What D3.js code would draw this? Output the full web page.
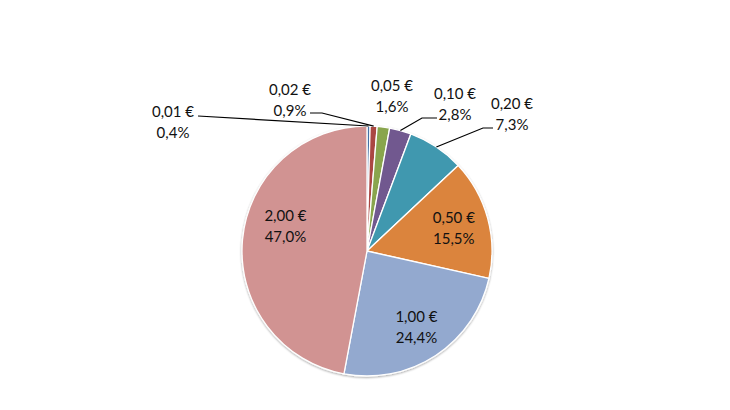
<!DOCTYPE html>
<html>
<head>
<meta charset="utf-8">
<script src="https://cdn.jsdelivr.net/npm/d3@7"></script>
<style>
  body { margin: 0; background: #fff; }
  svg text { font-family: Lato, "Open Sans", sans-serif; font-size: 15px; fill: #111; }
</style>
</head>
<body>
<div id="chart"></div>
<script>
// data
var coins = ["0,01 €", "0,02 €", "0,05 €", "0,10 €", "0,20 €", "0,50 €", "1,00 €", "2,00 €"];
var shares = [0.4, 0.9, 1.6, 2.8, 7.3, 15.5, 24.4, 47.0];
var shareLabels = ["0,4%", "0,9%", "1,6%", "2,8%", "7,3%", "15,5%", "24,4%", "47,0%"];
var colors = ["#4572A7", "#AA4643", "#89A54E", "#71588F", "#4198AF", "#DB843D", "#93A9CF", "#D19392"];

// label layout (relative to pie centre); null = label inside the slice
var labelPos = [
  { x: -194, y: -130, line: [-169, -135], elbow: 0 },
  { x: -77, y: -152, line: [-57, -138], elbow: 12 },
  { x: 25, y: -156, line: null },
  { x: 88, y: -148, line: [70, -133], elbow: -15 },
  { x: 145, y: -138, line: [126, -123], elbow: -10 },
  null, null,
  { dx: 8, dy: -17 }
];

var width = 730, height = 410;
var cx = 367, cy = 251, radius = 125;

var svg = d3.select("#chart").append("svg")
  .attr("width", width)
  .attr("height", height);

var g = svg.append("g")
  .attr("transform", "translate(" + cx + "," + cy + ")");

var pie = d3.pie().sort(null).value(d => d);
var arcs = pie(shares);

var arc = d3.arc().innerRadius(0).outerRadius(radius);
var labelArc = d3.arc().innerRadius(radius * 0.72).outerRadius(radius * 0.72);
var edgeArc = d3.arc().innerRadius(radius).outerRadius(radius);

// soft shadow under the pie
var defs = svg.append("defs");
var f = defs.append("filter").attr("id", "shadow").attr("x", "-10%").attr("y", "-10%").attr("width", "120%").attr("height", "120%");
f.append("feGaussianBlur").attr("in", "SourceAlpha").attr("stdDeviation", 1.2);
f.append("feOffset").attr("dx", 0).attr("dy", 1.2).attr("result", "b");
f.append("feComponentTransfer").append("feFuncA").attr("type", "linear").attr("slope", 0.35);
var m = f.append("feMerge");
m.append("feMergeNode");
m.append("feMergeNode").attr("in", "SourceGraphic");

g.append("g")
  .attr("filter", "url(#shadow)")
  .selectAll("path")
  .data(arcs)
  .join("path")
  .attr("d", arc)
  .attr("fill", (d, i) => colors[i])
  .attr("stroke", "#fff")
  .attr("stroke-width", 1.3);

// leader lines
arcs.forEach(function (d, i) {
  var p = labelPos[i];
  if (!p || !p.line) return;
  var edge = edgeArc.centroid(d);
  var pts = [[p.line[0], p.line[1]]];
  if (p.elbow) pts.push([p.line[0] + p.elbow, p.line[1]]);
  pts.push(edge);
  g.append("path")
    .attr("d", d3.line()(pts))
    .attr("fill", "none")
    .attr("stroke", "#000")
    .attr("stroke-width", 1.2);
});

// labels
arcs.forEach(function (d, i) {
  var p = labelPos[i];
  var x, y;
  if (p && p.x !== undefined) {
    x = p.x; y = p.y;
  } else {
    var c = labelArc.centroid(d);
    x = c[0] + (p ? p.dx : 0);
    y = c[1] + (p ? p.dy : 0);
  }
  var t = g.append("text")
    .attr("text-anchor", "middle")
    .attr("x", x)
    .attr("y", y);
  t.append("tspan").attr("x", x).attr("dy", "-0.3em").text(coins[i]);
  t.append("tspan").attr("x", x).attr("dy", "1.4em").text(shareLabels[i]);
});
</script>
</body>
</html>
